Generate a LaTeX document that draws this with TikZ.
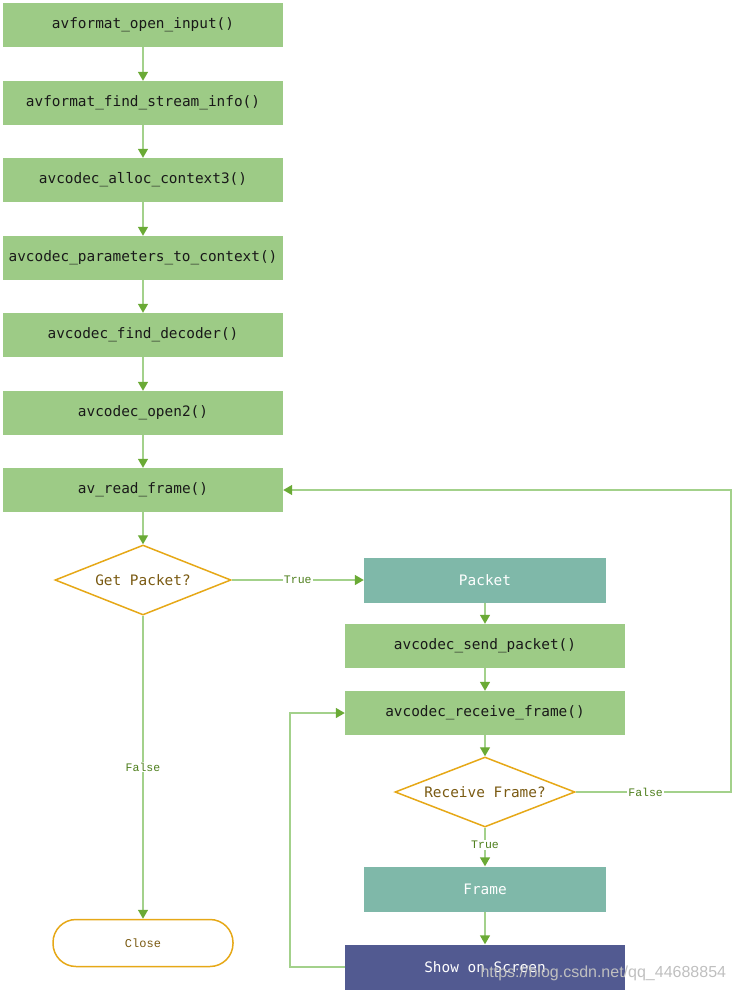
\documentclass[tikz,border=0pt]{standalone}
\usepackage{fontspec}
\setmonofont{DejaVu Sans Mono}
\setsansfont{Liberation Sans}
\newfontfamily\labfont{Liberation Mono}
\usetikzlibrary{shapes.geometric,arrows.meta}
\definecolor{boxgreen}{HTML}{9DCB86}
\definecolor{teal}{HTML}{7FB8A9}
\definecolor{navy}{HTML}{525A91}
\definecolor{linec}{HTML}{A3D18B}
\definecolor{tipc}{HTML}{6AAA35}
\definecolor{labc}{HTML}{4E7F1D}
\definecolor{orng}{HTML}{E6A817}
\definecolor{brn}{HTML}{7A5A12}
\begin{document}
\begin{tikzpicture}[x=1pt,y=-1pt,
  gbox/.style={rectangle,fill=boxgreen,draw=none,minimum width=280pt,minimum height=44pt,inner sep=0pt,font=\ttfamily\fontsize{14.4}{16}\selectfont,text=black!90},
  tbox/.style={rectangle,fill=teal,draw=none,minimum width=242pt,minimum height=45pt,inner sep=0pt,font=\ttfamily\fontsize{14.4}{16}\selectfont,text=white},
  nbox/.style={rectangle,fill=navy,draw=none,minimum width=280pt,minimum height=45pt,inner sep=0pt,font=\ttfamily\fontsize{14.4}{16}\selectfont,text=white},
  dec/.style={diamond,draw=orng,line width=1.5pt,fill=white,aspect=2.5,inner sep=0pt,font=\ttfamily\fontsize{14.4}{16}\selectfont,text=brn},
  conn/.style={draw=linec,line width=1.4pt,-{Triangle[width=10pt,length=9pt,color=tipc]}},
  lab/.style={fill=white,inner sep=1pt,font=\labfont\fontsize{11.5}{12}\selectfont,text=labc}]
\useasboundingbox (0,0) rectangle (733,993);
\node[gbox] (n1) at (143,25) {avformat\_open\_input()};
\node[gbox] (n2) at (143,103) {avformat\_find\_stream\_info()};
\node[gbox] (n3) at (143,180) {avcodec\_alloc\_context3()};
\node[gbox] (n4) at (143,258) {avcodec\_parameters\_to\_context()};
\node[gbox] (n5) at (143,335) {avcodec\_find\_decoder()};
\node[gbox] (n6) at (143,413) {avcodec\_open2()};
\node[gbox] (n7) at (143,490) {av\_read\_frame()};
\node[dec,minimum width=176pt,minimum height=70pt] (d1) at (143,580) {Get Packet?};
\node[tbox] (pk) at (485,580) {Packet};
\node[gbox] (sp) at (485,646) {avcodec\_send\_packet()};
\node[gbox] (rf) at (485,713) {avcodec\_receive\_frame()};
\node[dec,minimum width=180pt,minimum height=70pt] (d2) at (485,792) {Receive Frame?};
\node[tbox] (fr) at (485,889) {Frame};
\node[nbox] (sh) at (485,967) {Show on Screen};
\node[rectangle,rounded corners=23pt,draw=orng,line width=1.5pt,minimum width=180pt,minimum height=47pt,font=\labfont\fontsize{12}{13}\selectfont,text=brn] (cl) at (143,943) {Close};
\coordinate (c1) at (731,792);
\coordinate (c2) at (731,490);
\coordinate (c3) at (290,967);
\coordinate (c4) at (290,713);
\draw[conn] (n1) -- (n2);
\draw[conn] (n2) -- (n3);
\draw[conn] (n3) -- (n4);
\draw[conn] (n4) -- (n5);
\draw[conn] (n5) -- (n6);
\draw[conn] (n6) -- (n7);
\draw[conn] (n7) -- (d1);
\draw[conn] (d1) -- node[lab]{True} (pk);
\draw[conn] (d1) -- node[lab]{False} (cl);
\draw[conn] (pk) -- (sp);
\draw[conn] (sp) -- (rf);
\draw[conn] (rf) -- (d2);
\draw[conn] (d2) -- node[lab,pos=0.45]{True} (fr);
\draw[conn] (fr) -- (sh);
\draw[conn] (d2.east) -- node[lab,pos=0.45]{False} (c1) -- (c2) -- (n7.east);
\draw[conn] (sh.west) -- (c3) -- (c4) -- (rf.west);
\node[font=\sffamily\fontsize{16}{18}\selectfont,text=black!25,anchor=west] (wm) at (477,973) {https://blog.csdn.net/qq\_44688854};
\end{tikzpicture}
\end{document}
